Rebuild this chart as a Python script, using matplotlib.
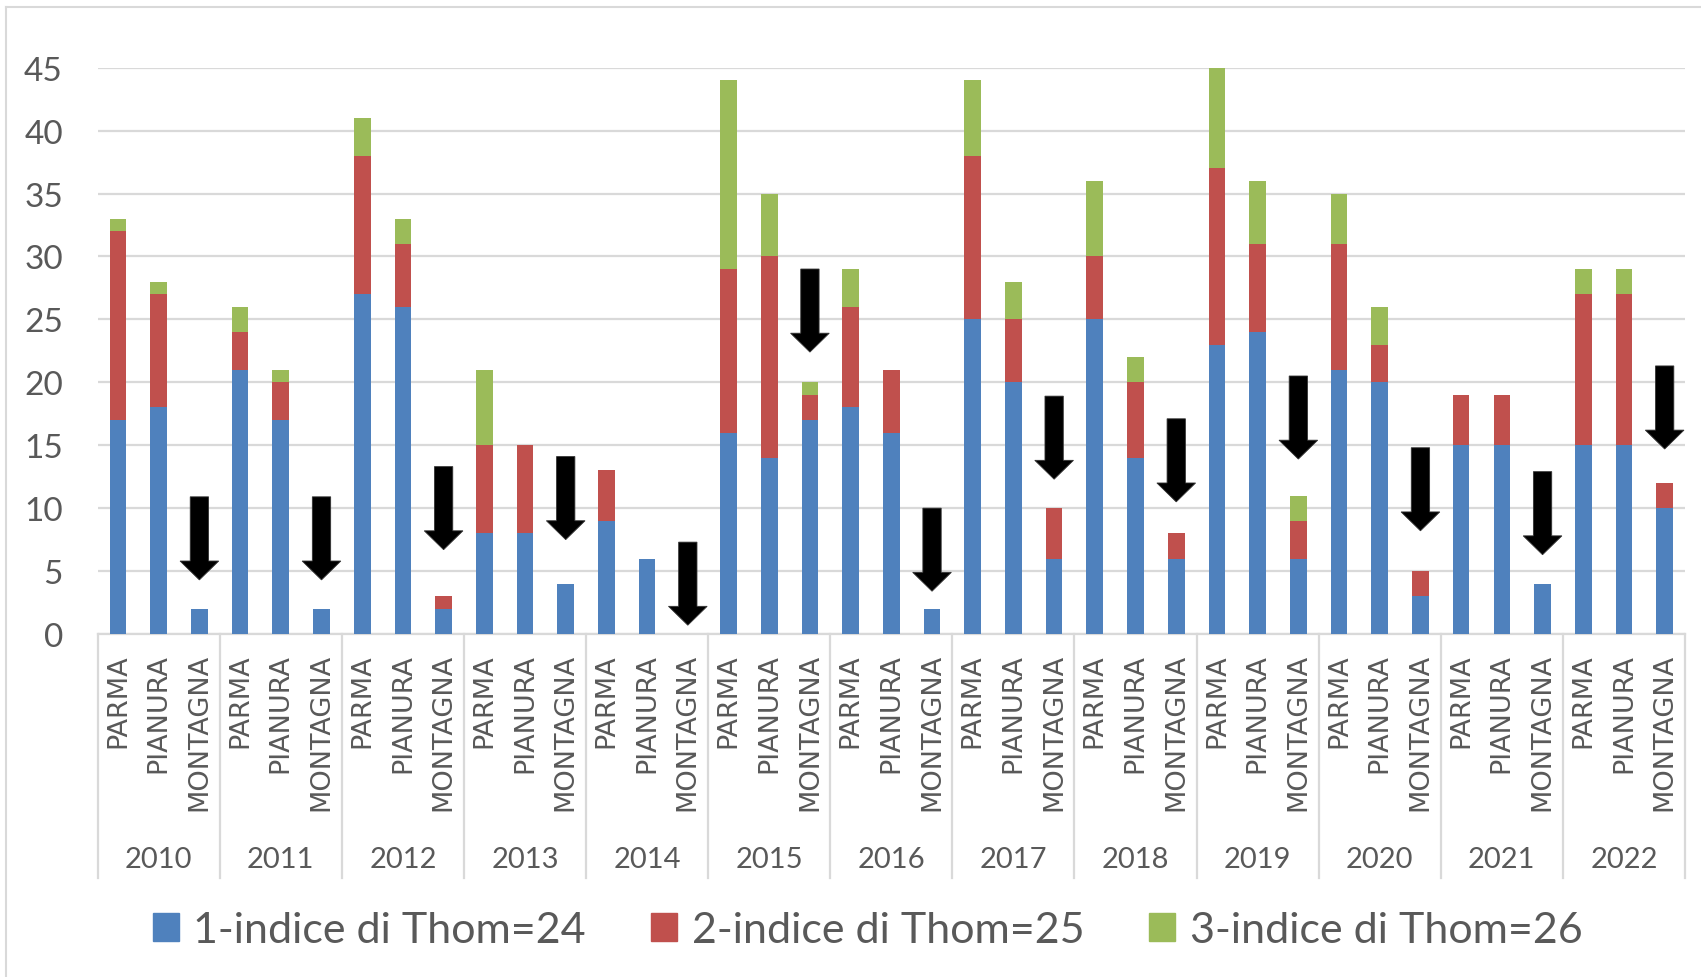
import numpy as np
import matplotlib
matplotlib.use("Agg")
import matplotlib.pyplot as plt
from matplotlib.patches import FancyArrow, Patch
from matplotlib.lines import Line2D

years = ["2010", "2011", "2012", "2013", "2014", "2015", "2016",
         "2017", "2018", "2019", "2020", "2021", "2022"]
zones = ["PARMA", "PIANURA", "MONTAGNA"]

# giorni per classe di indice, tre zone per anno
thom_24 = [17, 18, 2, 21, 17, 2, 27, 26, 2, 8, 8, 4, 9, 6, 0, 16, 14, 17, 18, 16, 2,
           25, 20, 6, 25, 14, 6, 23, 24, 6, 21, 20, 3, 15, 15, 4, 15, 15, 10]
thom_25 = [15, 9, 0, 3, 3, 0, 11, 5, 1, 7, 7, 0, 4, 0, 0, 13, 16, 2, 8, 5, 0,
           13, 5, 4, 5, 6, 2, 14, 7, 3, 10, 3, 2, 4, 4, 0, 12, 12, 2]
thom_26 = [1, 1, 0, 2, 1, 0, 3, 2, 0, 6, 0, 0, 0, 0, 0, 15, 5, 1, 3, 0, 0,
           6, 3, 0, 6, 2, 0, 8, 5, 2, 4, 3, 0, 0, 0, 0, 2, 2, 0]
series_names = ["1-indice di Thom=24", "2-indice di Thom=25", "3-indice di Thom=26"]

# frecce sopra le barre MONTAGNA (punto di partenza, in giorni)
arrow_top = [10.9, 10.9, 13.3, 14.1, 7.3, 29.0, 10.0, 18.9, 17.1, 20.5, 14.8, 12.9, 21.3]
arrow_len = 6.6

BLUE, RED, GREEN = "#4F81BD", "#C0504D", "#9BBB59"
GRID = "#d9d9d9"
TEXT = "#595959"
NUM_FONT = ["Lato", "DejaVu Sans"]

fig = plt.figure(figsize=(17.01, 9.78), dpi=100)
ax = fig.add_axes([0.0574, 0.3507, 0.9332, 0.5791])

x = np.arange(len(thom_24))
b1 = np.array(thom_24)
b2 = np.array(thom_25)
b3 = np.array(thom_26)
w = 0.41
ax.bar(x, b1, w, color=BLUE, zorder=3, label=series_names[0])
ax.bar(x, b2, w, bottom=b1, color=RED, zorder=3, label=series_names[1])
ax.bar(x, b3, w, bottom=b1 + b2, color=GREEN, zorder=3, label=series_names[2])

for i, top in enumerate(arrow_top):
    xm = i * 3 + 2
    ax.add_patch(FancyArrow(xm, top, 0, -arrow_len, width=0.45, head_width=0.95,
                            head_length=1.5, length_includes_head=True,
                            facecolor="black", edgecolor="#333333", lw=0.6, zorder=4))

ax.set_xlim(-0.5, len(x) - 0.5)
ax.set_ylim(0, 45)
ax.set_yticks(range(0, 50, 5))
ax.yaxis.grid(True, color=GRID, lw=1.6, zorder=0)
ax.tick_params(axis="y", length=0, pad=25, labelsize=24, labelcolor=TEXT)
for lab in ax.get_yticklabels():
    lab.set_family(NUM_FONT)
ax.set_xticks([])
for s in ["top", "right", "left"]:
    ax.spines[s].set_visible(False)
ax.spines["bottom"].set_color(GRID)
ax.spines["bottom"].set_linewidth(1.6)

# etichette a due livelli: zona sotto ogni barra, anno sotto ogni gruppo
tr = ax.get_xaxis_transform()
for i in x:
    ax.text(i, -0.034, zones[i % 3], rotation=90, ha="center", va="top",
            transform=tr, fontsize=19.5, color=TEXT, family="DejaVu Sans")
for g, yr in enumerate(years):
    ax.text(g * 3 + 1, -0.398, yr, ha="center", va="center", transform=tr,
            fontsize=21, color=TEXT, family=NUM_FONT)
for g in range(len(years) + 1):
    ax.add_line(Line2D([g * 3 - 0.5] * 2, [0, -0.431], transform=tr, color=GRID,
                       lw=1.6, clip_on=False))

handles = [Patch(color=c) for c in (BLUE, RED, GREEN)]
leg = fig.legend(handles, series_names, loc="center", bbox_to_anchor=(0.51, 0.048),
                 ncol=3, frameon=False, handlelength=0.62, handleheight=0.62,
                 handletextpad=0.33, columnspacing=1.5,
                 prop={"family": NUM_FONT, "size": 31})
for t in leg.get_texts():
    t.set_color(TEXT)

# cornice del grafico
fig.add_artist(Line2D([0.0035, 0.0035], [0, 0.992], color=GRID, lw=1.5))
fig.add_artist(Line2D([0.0035, 1], [0.992, 0.992], color=GRID, lw=1.5))

fig.savefig("out.png", dpi=100)
